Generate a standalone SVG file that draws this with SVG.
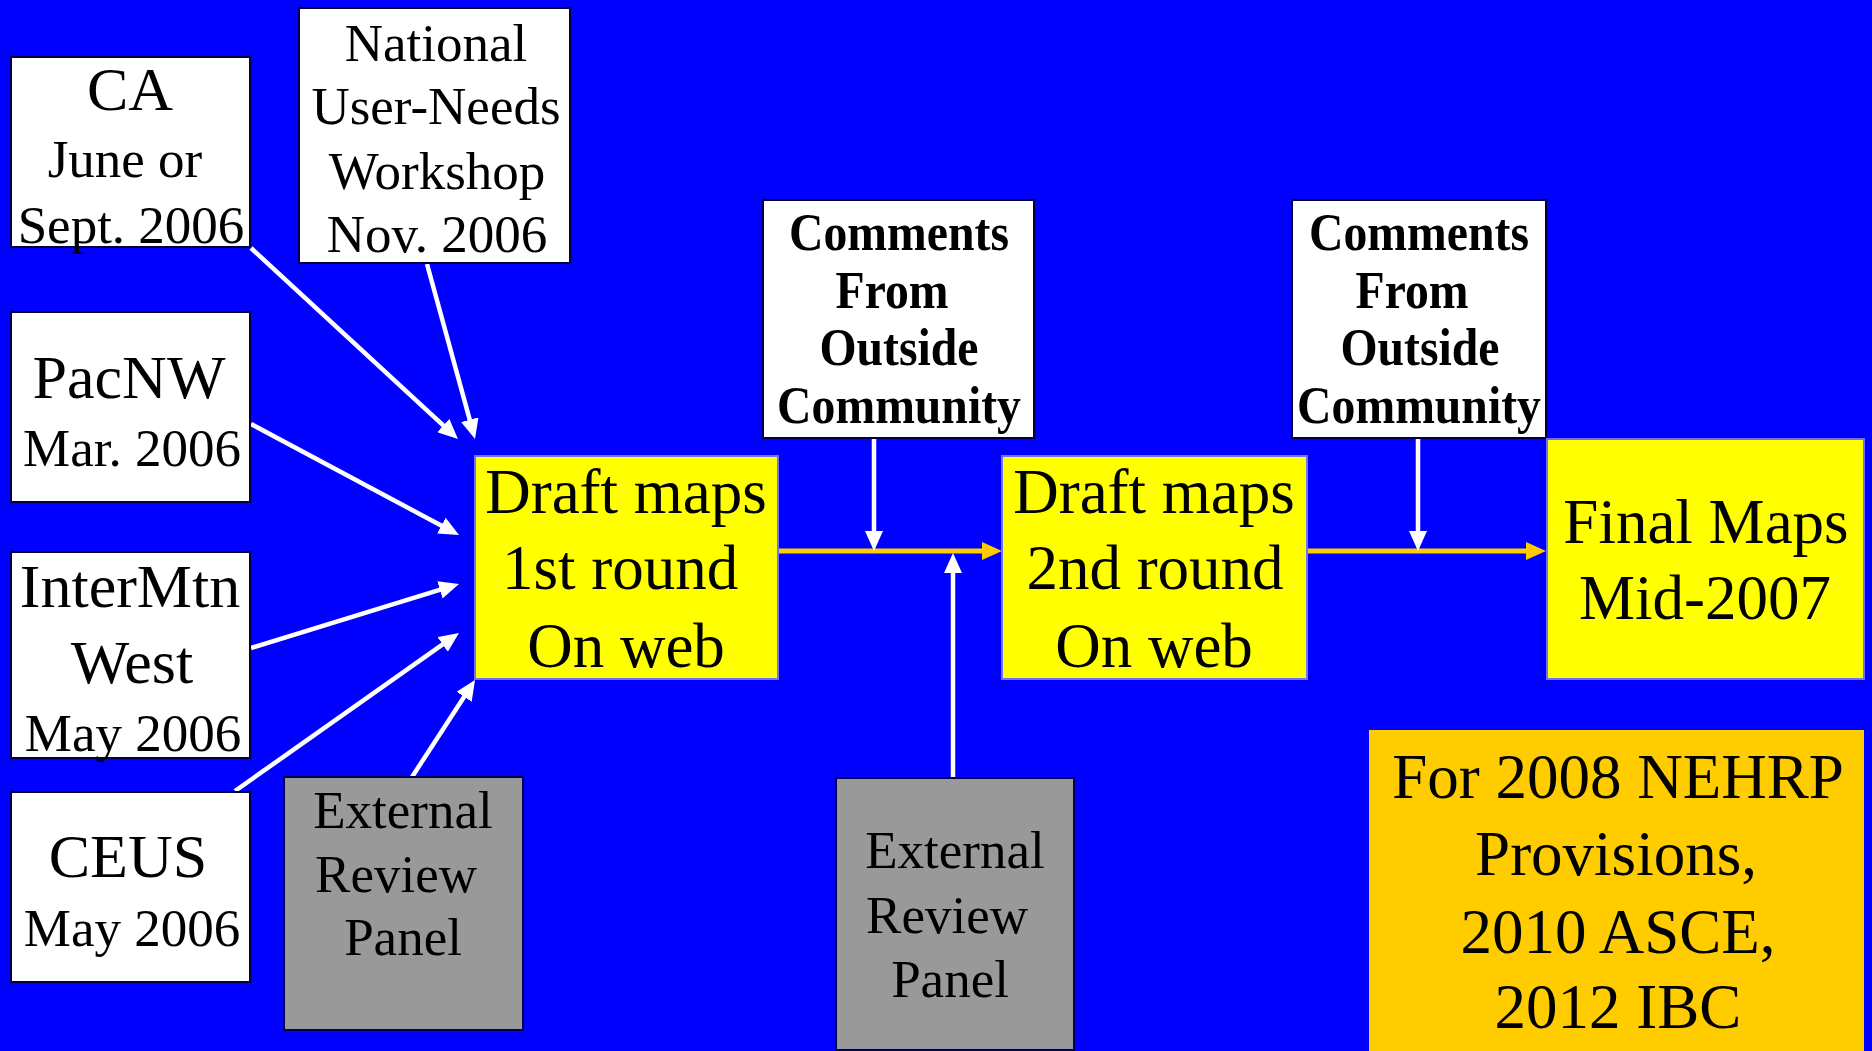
<svg xmlns="http://www.w3.org/2000/svg" width="1872" height="1051" viewBox="0 0 1872 1051">
<style>
.t{font-family:"Liberation Serif","Times New Roman",serif;fill:#000;text-anchor:middle}
.b{font-weight:bold;font-size:53px}
.wbox{fill:#fff;stroke:#000040;stroke-width:2}
.ybox{fill:#ffff00;stroke:#7070ff;stroke-width:2}
.gbox{fill:#999999;stroke:#000050;stroke-width:2}
.obox{fill:#ffcc00}
.w{stroke:#fff;stroke-width:4.5;fill:none;marker-end:url(#aw)}
.o{stroke:#ffcc00;stroke-width:5;fill:none;marker-end:url(#ao)}
</style>
<defs>
<marker id="aw" markerUnits="userSpaceOnUse" markerWidth="20" markerHeight="18" refX="4" refY="9" orient="auto"><path d="M0,0 L20,9 L0,18 z" fill="#fff"/></marker>
<marker id="ao" markerUnits="userSpaceOnUse" markerWidth="20" markerHeight="18" refX="4" refY="9" orient="auto"><path d="M0,0 L20,9 L0,18 z" fill="#ffcc00"/></marker>
</defs>
<rect x="0" y="0" width="1872" height="1051" fill="#0000ff"/>

<g id="connectors">
<line class="w" x1="251" y1="248" x2="446.2" y2="428.2"/>
<line class="w" x1="427" y1="264" x2="470.8" y2="423.6"/>
<line class="w" x1="251" y1="424" x2="444.9" y2="527.5"/>
<line class="w" x1="251" y1="648" x2="443.7" y2="588.7"/>
<line class="w" x1="235" y1="791" x2="445.9" y2="642.2"/>
<line class="w" x1="412" y1="777" x2="466.3" y2="693.4"/>
<line class="o" x1="778" y1="551" x2="986" y2="551"/>
<line class="w" x1="874" y1="438" x2="874" y2="535"/>
<line class="w" x1="953" y1="777" x2="953" y2="569"/>
<line class="o" x1="1307" y1="551" x2="1530" y2="551"/>
<line class="w" x1="1418" y1="438" x2="1418" y2="535"/>
</g>

<g id="ca">
<rect class="wbox" x="11" y="57" width="239" height="190"/>
<text class="t" x="130" y="110" font-size="62">CA</text>
<text class="t" x="125" y="177" font-size="53">June or</text>
<text class="t" x="131" y="243" font-size="53">Sept. 2006</text>
</g>

<g id="national">
<rect class="wbox" x="299" y="8" width="271" height="255"/>
<text class="t" x="436" y="61" font-size="53">National</text>
<text class="t" x="436" y="124" font-size="53">User-Needs</text>
<text class="t" x="437" y="189" font-size="53">Workshop</text>
<text class="t" x="437" y="252" font-size="53">Nov. 2006</text>
</g>

<g id="pacnw">
<rect class="wbox" x="11" y="312" width="239" height="190"/>
<text class="t" x="129" y="398" font-size="62">PacNW</text>
<text class="t" x="132" y="466" font-size="53">Mar. 2006</text>
</g>

<g id="intermtn">
<rect class="wbox" x="11" y="552" width="239" height="206"/>
<text class="t" x="130" y="607" font-size="62">InterMtn</text>
<text class="t" x="132" y="683" font-size="62">West</text>
<text class="t" x="133" y="751" font-size="53">May 2006</text>
</g>

<g id="ceus">
<rect class="wbox" x="11" y="792" width="239" height="190"/>
<text class="t" x="128" y="877" font-size="62">CEUS</text>
<text class="t" x="132" y="946" font-size="53">May 2006</text>
</g>

<g id="panel1">
<rect class="gbox" x="284" y="777" width="239" height="253"/>
<text class="t" x="403" y="828" font-size="53">External</text>
<text class="t" x="396" y="892" font-size="53">Review</text>
<text class="t" x="403" y="955" font-size="53">Panel</text>
</g>

<g id="draft1">
<rect class="ybox" x="475" y="456" width="303" height="223"/>
<text class="t" x="626" y="513" font-size="63">Draft maps</text>
<text class="t" x="620" y="589" font-size="63">1st round</text>
<text class="t" x="626" y="667" font-size="63">On web</text>
</g>

<g id="comments1">
<rect class="wbox" x="763" y="200" width="271" height="238"/>
<text class="t b" transform="translate(899 250) scale(0.9 1)">Comments</text>
<text class="t b" transform="translate(892 308) scale(0.9 1)">From</text>
<text class="t b" transform="translate(899 365) scale(0.9 1)">Outside</text>
<text class="t b" transform="translate(899 423) scale(0.9 1)">Community</text>
</g>

<g id="draft2">
<rect class="ybox" x="1002" y="456" width="305" height="223"/>
<text class="t" x="1154" y="513" font-size="63">Draft maps</text>
<text class="t" x="1155" y="589" font-size="63">2nd round</text>
<text class="t" x="1154" y="667" font-size="63">On web</text>
</g>

<g id="comments2">
<rect class="wbox" x="1292" y="200" width="254" height="238"/>
<text class="t b" transform="translate(1419 250) scale(0.9 1)">Comments</text>
<text class="t b" transform="translate(1412 308) scale(0.9 1)">From</text>
<text class="t b" transform="translate(1420 365) scale(0.9 1)">Outside</text>
<text class="t b" transform="translate(1419 423) scale(0.9 1)">Community</text>
</g>

<g id="panel2">
<rect class="gbox" x="836" y="778" width="238" height="272"/>
<text class="t" x="955" y="868" font-size="53">External</text>
<text class="t" x="947" y="933" font-size="53">Review</text>
<text class="t" x="950" y="997" font-size="53">Panel</text>
</g>

<g id="final">
<rect class="ybox" x="1547" y="439" width="317" height="240"/>
<text class="t" x="1706" y="543" font-size="63">Final Maps</text>
<text class="t" x="1705" y="619" font-size="63">Mid-2007</text>
</g>

<g id="standards">
<rect class="obox" x="1369" y="730" width="495" height="330"/>
<text class="t" x="1618" y="798" font-size="63">For 2008 NEHRP</text>
<text class="t" x="1616" y="875" font-size="63">Provisions,</text>
<text class="t" x="1618" y="953" font-size="63">2010 ASCE,</text>
<text class="t" x="1618" y="1028" font-size="63">2012 IBC</text>
</g>
</svg>
